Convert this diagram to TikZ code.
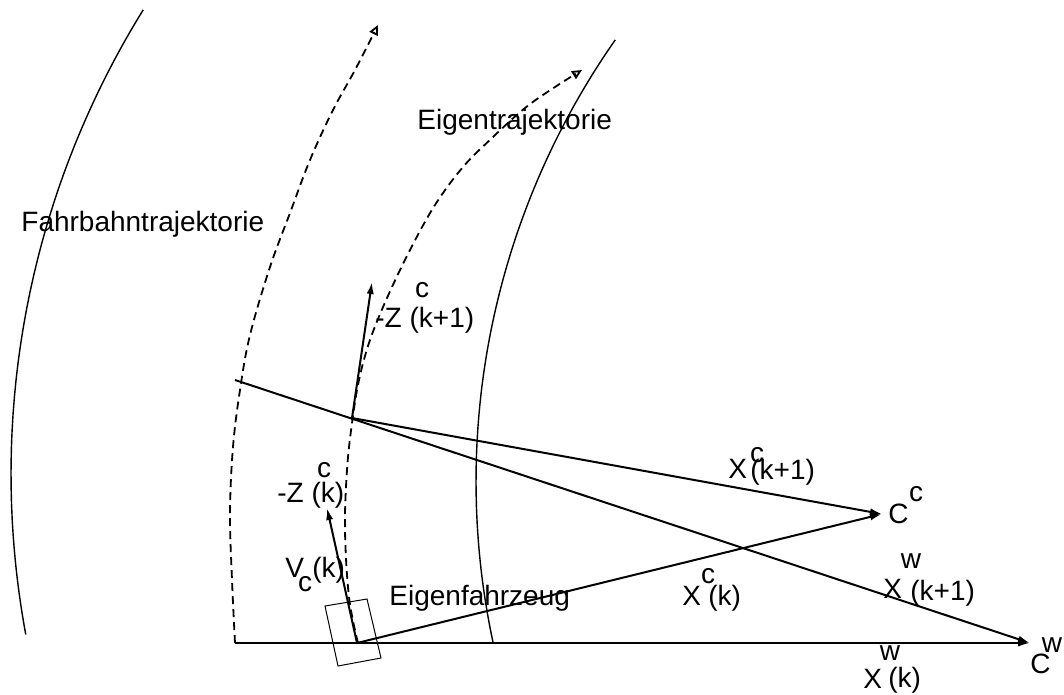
\documentclass[tikz,border=0pt]{standalone}
\usepackage{fontspec}
\setmainfont{Liberation Sans}
\usetikzlibrary{arrows.meta}
\begin{document}
\begin{tikzpicture}[x=0.5pt,y=-0.5pt,
  lbl/.style={inner sep=0pt, font=\fontsize{14}{16}\selectfont},
  lblb/.style={lbl, anchor=base west},
  vec/.style={line width=1pt, -{Latex[length=6pt,width=3.6pt]}},
  traj/.style={line width=0.9pt, dash pattern=on 4pt off 2.5pt, -{Triangle[open,length=5pt,width=4.5pt]}},
  road/.style={line width=0.7pt},
  car/.style={line width=0.5pt}]
\useasboundingbox (0,0) rectangle (1064,695);

% road edges
\draw[road] plot[domain=169.5:211.8, samples=80] ({892+881*cos(\x)}, {474+881*sin(\x)});
\draw[road] plot[domain=167.9:215, samples=80] ({1246+770*cos(\x)}, {481.5+770*sin(\x)});

% key points
\coordinate (L0) at (235,643);
\coordinate (L1) at (235,380);
\coordinate (P0) at (357,643);
\coordinate (P1) at (352,418);
\coordinate (Cc) at (882,514);
\coordinate (Cw) at (1030,643);
\coordinate (Ztip) at (372,282);
\coordinate (Vtip) at (327,508);

% trajectories
\draw[traj] plot[smooth, tension=0.6] coordinates {(235,643) (232,580) (230,513) (233,447) (240,390) (250,335) (270,267) (290,213) (310,160) (333,110) (355,70) (378,25)};
\draw[traj] plot[smooth, tension=0.6] coordinates {(358,643) (349,597) (345,530) (347,470) (352,423) (359,380) (370,340) (387,298) (410,250) (435,205) (463,167) (493,137) (525,108) (555,87) (582,70)};

% vehicle
\draw[car] (325,606) -- (367,599) -- (381,658) -- (338,666) -- cycle;

% vectors
\draw[vec] (L0) -- (Cw);
\draw[vec] (L1) -- (Cw);
\draw[vec] (P1) -- (Cc);
\draw[vec] (P0) -- (Cc);
\draw[vec] (P1) -- (Ztip);
\draw[vec] (P0) -- (Vtip);

% labels
\node[lblb] (fahr) at (21,232) {Fahrbahntrajektorie};
\node[lblb] (eigtr) at (417,130) {Eigentrajektorie};
\node[lblb] (eigfz) at (389,605) {Eigenfahrzeug};

\node[lblb] (z1) at (375,327) {-Z (k+1)};
\node[lbl] (z1c) at (422,290) {c};
\node[lblb] (z0) at (277,502) {-Z (k)};
\node[lbl] (z0c) at (324,470) {c};

\node[lblb] (v) at (285,577) {V};
\node[lbl] (vc) at (305,584) {c};
\node[lblb] (vk) at (312,577) {(k)};

\node[lblb] (xc1) at (728,478) {X};
\node[lbl] (xc1c) at (757,455) {c};
\node[lblb] (xc1k) at (750,479) {(k+1)};

\node[lblb] (cc) at (888,523) {C};
\node[lbl] (ccc) at (916,494) {c};

\node[lblb] (xc0) at (682,605) {X};
\node[lbl] (xc0c) at (708,576) {c};
\node[lblb] (xc0k) at (708,605) {(k)};

\node[lbl] (xw1w) at (911,561) {w};
\node[lblb] (xw1) at (883,598) {X};
\node[lblb] (xw1k) at (910,600) {(k+1)};

\node[lbl] (xw0w) at (890,653) {w};
\node[lblb] (xw0) at (863,688) {X};
\node[lblb] (xw0k) at (888,687) {(k)};

\node[lblb] (cw) at (1030,673) {C};
\node[lbl] (cww) at (1052,645) {w};
\end{tikzpicture}
\end{document}
